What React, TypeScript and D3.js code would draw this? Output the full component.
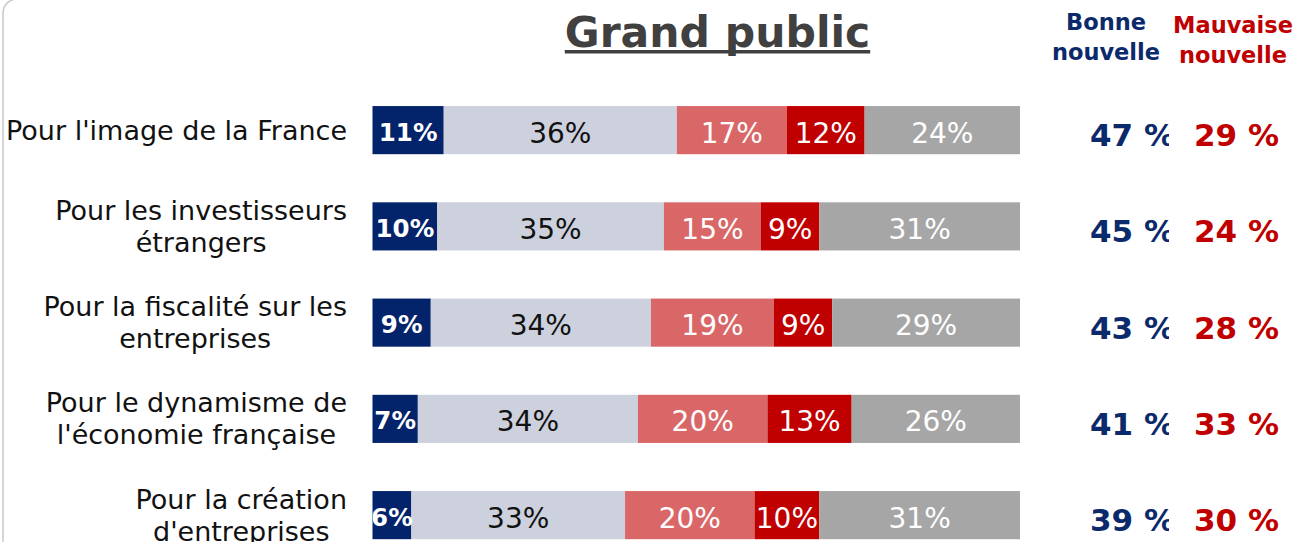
import React, { useRef, useEffect } from "react";
import * as d3 from "d3";

const categories = [
  ["Pour l'image de la France"],
  ["Pour les investisseurs", "étrangers"],
  ["Pour la fiscalité sur les", "entreprises"],
  ["Pour le dynamisme de", "l'économie française"],
  ["Pour la création", "d'entreprises"],
];
const veryGood = [11, 10, 9, 7, 6];
const fairlyGood = [36, 35, 34, 34, 33];
const fairlyBad = [17, 15, 19, 20, 20];
const veryBad = [12, 9, 9, 13, 10];
const noOpinion = [24, 31, 29, 26, 31];
const goodTotal = [47, 45, 43, 41, 39];
const badTotal = [29, 24, 28, 33, 30];

const keys = ["veryGood", "fairlyGood", "fairlyBad", "veryBad", "noOpinion"];
const colors = ["#03236a", "#cdd1de", "#da6767", "#c00000", "#a6a6a6"];
const labelColors = ["#ffffff", "#111111", "#ffffff", "#ffffff", "#ffffff"];

const FONT = "'DejaVu Sans', Verdana, sans-serif";

function App() {
  const canvas = useRef(null);

  function drawChart() {
    document.body.style.margin = "0";
    const svg = d3.select(canvas.current);
    svg.selectAll("*").remove();

    const rows = categories.map((c, i) => ({
      key: c.join(" "),
      lines: c,
      veryGood: veryGood[i],
      fairlyGood: fairlyGood[i],
      fairlyBad: fairlyBad[i],
      veryBad: veryBad[i],
      noOpinion: noOpinion[i],
    }));

    const x = d3.scaleLinear().domain([0, 100]).range([372.5, 1020]);
    const y = d3
      .scaleBand()
      .domain(rows.map((r) => r.key))
      .range([82, 563.25])
      .paddingInner(0.5)
      .paddingOuter(0.25);

    const stack = d3.stack().keys(keys);
    const series = stack(rows);

    // frame
    svg
      .append("rect")
      .attr("x", 3)
      .attr("y", -1)
      .attr("width", 1400)
      .attr("height", 700)
      .attr("rx", 14)
      .attr("fill", "none")
      .attr("stroke", "#c9c9c9")
      .attr("stroke-width", 1.5);

    const defs = svg.append("defs");
    defs
      .append("clipPath")
      .attr("id", "barClip")
      .append("rect")
      .attr("x", x(0))
      .attr("y", 0)
      .attr("width", x(100) - x(0))
      .attr("height", 542);
    // the "Bonne" totals are cut at the right in the original
    defs
      .append("clipPath")
      .attr("id", "goodClip")
      .append("rect")
      .attr("x", 0)
      .attr("y", 0)
      .attr("width", 1169)
      .attr("height", 542);

    // title
    const title = svg
      .append("text")
      .attr("x", 717.5)
      .attr("y", 47)
      .attr("text-anchor", "middle")
      .style("font-family", FONT)
      .style("font-weight", "bold")
      .style("font-size", "42.5px")
      .attr("fill", "#404040")
      .text("Grand public");
    const tw = title.node().getComputedTextLength();
    svg
      .append("rect")
      .attr("x", 717.5 - tw / 2)
      .attr("y", 50)
      .attr("width", tw)
      .attr("height", 3.5)
      .attr("fill", "#404040");

    // column headers
    const headers = [
      { lines: ["Bonne", "nouvelle"], x: 1106, y: 30, color: "#0b2a6b" },
      { lines: ["Mauvaise", "nouvelle"], x: 1233, y: 33, color: "#c00000" },
    ];
    headers.forEach((h) => {
      const t = svg
        .append("text")
        .attr("text-anchor", "middle")
        .style("font-family", FONT)
        .style("font-weight", "bold")
        .style("font-size", "22.5px")
        .attr("fill", h.color);
      h.lines.forEach((l, i) => {
        t.append("tspan")
          .attr("x", h.x)
          .attr("y", h.y + i * 30)
          .text(l);
      });
    });

    // bars
    const g = svg.append("g");
    series.forEach((s, si) => {
      g.selectAll(null)
        .data(s)
        .enter()
        .append("rect")
        .attr("x", (d) => x(d[0]))
        .attr("y", (d) => y(d.data.key))
        .attr("width", (d) => x(d[1]) - x(d[0]))
        .attr("height", y.bandwidth())
        .attr("fill", colors[si]);
    });

    // segment labels
    const lg = svg.append("g").attr("clip-path", "url(#barClip)");
    series.forEach((s, si) => {
      lg.selectAll(null)
        .data(s)
        .enter()
        .append("text")
        .attr("x", (d) => (x(d[0]) + x(d[1])) / 2)
        .attr(
          "y",
          (d) => y(d.data.key) + y.bandwidth() / 2 + (si === 0 ? 10.5 : 12.5)
        )
        .attr("text-anchor", "middle")
        .style("font-family", FONT)
        .style("font-weight", si === 0 ? "bold" : "normal")
        .style("font-size", si === 0 ? "24.5px" : "28px")
        .attr("fill", labelColors[si])
        .text((d) => `${d[1] - d[0]}%`);
    });

    // category labels
    rows.forEach((r) => {
      const cy = y(r.key) + y.bandwidth() / 2;
      const t = svg
        .append("text")
        .attr("text-anchor", "middle")
        .style("font-family", FONT)
        .style("font-size", "27px")
        .attr("fill", "#111111");
      const spans = r.lines.map((l) => t.append("tspan").text(l));
      const widths = spans.map((sp) => sp.node().getComputedTextLength());
      const maxW = d3.max(widths);
      const cx = 347 - maxW / 2;
      const top = r.lines.length === 1 ? cy + 9.5 : cy - 6.5;
      spans.forEach((sp, i) => sp.attr("x", cx).attr("y", top + i * 32));
    });

    // totals
    const totals = svg.append("g");
    totals
      .append("g")
      .attr("clip-path", "url(#goodClip)")
      .selectAll("text")
      .data(rows)
      .enter()
      .append("text")
      .attr("x", 1090)
      .attr("y", (d) => y(d.key) + y.bandwidth() / 2 + 16)
      .style("font-family", FONT)
      .style("font-weight", "bold")
      .style("font-size", "31px")
      .attr("fill", "#0b2a6b")
      .text((d, i) => `${goodTotal[i]} %`);
    totals
      .selectAll(null)
      .data(rows)
      .enter()
      .append("text")
      .attr("x", 1194)
      .attr("y", (d) => y(d.key) + y.bandwidth() / 2 + 16)
      .style("font-family", FONT)
      .style("font-weight", "bold")
      .style("font-size", "31px")
      .attr("fill", "#c00000")
      .text((d, i) => `${badTotal[i]} %`);
  }

  useEffect(() => {
    drawChart();
  }, []);

  return (
    <>
      <svg
        ref={canvas}
        width={1311}
        height={542}
        style={{ display: "block", background: "#ffffff" }}
      ></svg>
    </>
  );
}

export default App;
